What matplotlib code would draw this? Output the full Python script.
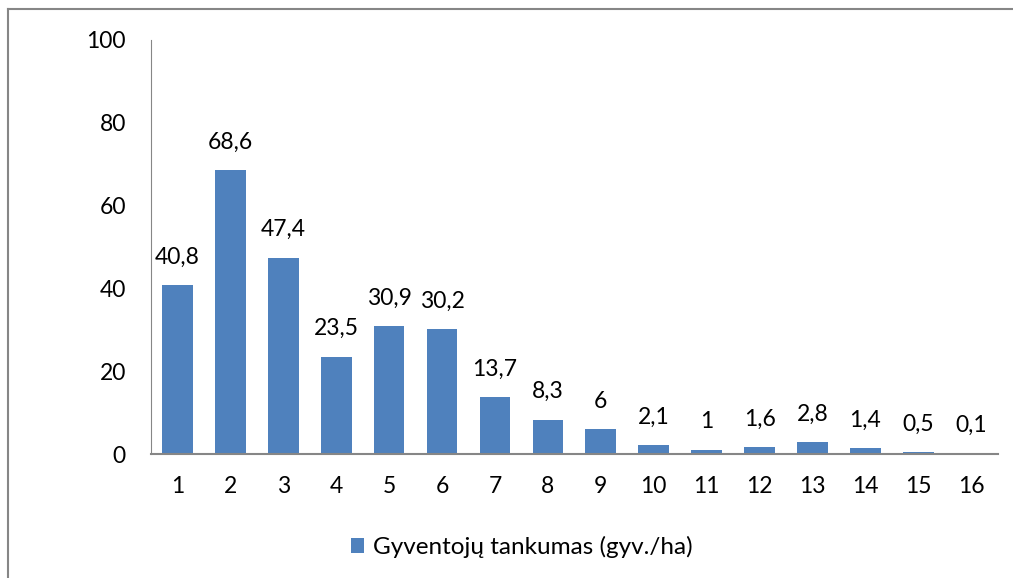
import matplotlib.pyplot as plt
from matplotlib.lines import Line2D

categories = [str(i) for i in range(1, 17)]
values = [40.8, 68.6, 47.4, 23.5, 30.9, 30.2, 13.7, 8.3, 6, 2.1, 1, 1.6, 2.8, 1.4, 0.5, 0.1]
series_name = "Gyventojų tankumas (gyv./ha)"

plt.rcParams['font.family'] = ['Lato', 'DejaVu Sans']

fig = plt.figure(figsize=(10.13, 5.78), dpi=100)
ax = fig.add_axes([0.149, 0.2145, 0.836, 0.7165])

x = range(len(values))
bars = ax.bar(x, values, width=0.58, color="#4F81BD", label=series_name)

for xi, v in zip(x, values):
    txt = f"{v:g}".replace(".", ",")
    ax.text(xi, v + 4.2, txt, ha="center", va="bottom", fontsize=16.5, color="#000000")

ax.set_xlim(-0.5, len(values) - 0.5)
ax.set_ylim(0, 100)
ax.set_yticks(range(0, 101, 20))
ax.set_xticks(list(x))
ax.set_xticklabels(categories)
ax.tick_params(axis="both", length=0, labelsize=16.5, colors="#000000")
ax.tick_params(axis="y", pad=18)
ax.tick_params(axis="x", pad=16)

for side in ["top", "right"]:
    ax.spines[side].set_visible(False)
ax.spines["left"].set_color("#868686")
ax.spines["bottom"].set_color("#868686")
ax.spines["bottom"].set_linewidth(1.5)

fig.legend(handles=[bars], labels=[series_name], loc="center",
           bbox_to_anchor=(0.515, 0.054), frameon=False, fontsize=17.5,
           handlelength=0.55, handleheight=0.55, handletextpad=0.35)

# outer chart frame (partly cut at the right and bottom)
fig.add_artist(Line2D([0.008, 0.008], [0.0, 0.985], transform=fig.transFigure,
                      color="#868686", lw=1.5))
fig.add_artist(Line2D([0.008, 1.0], [0.985, 0.985], transform=fig.transFigure,
                      color="#868686", lw=1.5))

fig.savefig("out.png", dpi=100)
